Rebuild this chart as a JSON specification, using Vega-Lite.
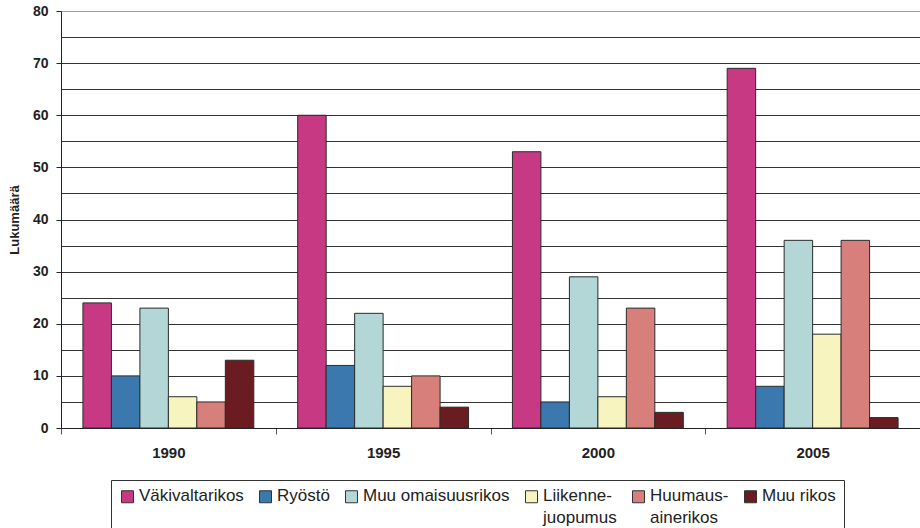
{
  "$schema": "https://vega.github.io/schema/vega-lite/v6.json",
  "width": 859,
  "height": 417,
  "autosize": {"type": "none"},
  "padding": {"left": 61, "top": 11, "right": 0, "bottom": 100},
  "background": "white",
  "config": {
    "font": "Liberation Sans",
    "view": {"stroke": null}
  },
  "data": {
    "values": [
      {"vuosi": "1990", "rikos": "Väkivaltarikos", "lkm": 24},
      {"vuosi": "1990", "rikos": "Ryöstö", "lkm": 10},
      {"vuosi": "1990", "rikos": "Muu omaisuusrikos", "lkm": 23},
      {"vuosi": "1990", "rikos": "Liikenne-juopumus", "lkm": 6},
      {"vuosi": "1990", "rikos": "Huumaus-ainerikos", "lkm": 5},
      {"vuosi": "1990", "rikos": "Muu rikos", "lkm": 13},
      {"vuosi": "1995", "rikos": "Väkivaltarikos", "lkm": 60},
      {"vuosi": "1995", "rikos": "Ryöstö", "lkm": 12},
      {"vuosi": "1995", "rikos": "Muu omaisuusrikos", "lkm": 22},
      {"vuosi": "1995", "rikos": "Liikenne-juopumus", "lkm": 8},
      {"vuosi": "1995", "rikos": "Huumaus-ainerikos", "lkm": 10},
      {"vuosi": "1995", "rikos": "Muu rikos", "lkm": 4},
      {"vuosi": "2000", "rikos": "Väkivaltarikos", "lkm": 53},
      {"vuosi": "2000", "rikos": "Ryöstö", "lkm": 5},
      {"vuosi": "2000", "rikos": "Muu omaisuusrikos", "lkm": 29},
      {"vuosi": "2000", "rikos": "Liikenne-juopumus", "lkm": 6},
      {"vuosi": "2000", "rikos": "Huumaus-ainerikos", "lkm": 23},
      {"vuosi": "2000", "rikos": "Muu rikos", "lkm": 3},
      {"vuosi": "2005", "rikos": "Väkivaltarikos", "lkm": 69},
      {"vuosi": "2005", "rikos": "Ryöstö", "lkm": 8},
      {"vuosi": "2005", "rikos": "Muu omaisuusrikos", "lkm": 36},
      {"vuosi": "2005", "rikos": "Liikenne-juopumus", "lkm": 18},
      {"vuosi": "2005", "rikos": "Huumaus-ainerikos", "lkm": 36},
      {"vuosi": "2005", "rikos": "Muu rikos", "lkm": 2}
    ]
  },
  "mark": {"type": "bar", "stroke": "#2b2b2b", "strokeWidth": 1},
  "encoding": {
    "x": {
      "field": "vuosi",
      "type": "nominal",
      "scale": {"paddingInner": 0, "paddingOuter": 0},
      "axis": {
        "title": null,
        "labelAngle": 0,
        "labelFontWeight": "bold",
        "labelFontSize": 15,
        "labelColor": "#222",
        "labelPadding": 11,
        "tickBand": "extent",
        "tickSize": 6,
        "tickColor": "#555",
        "domainColor": "#222",
        "grid": false
      }
    },
    "xOffset": {
      "field": "rikos",
      "type": "nominal",
      "sort": ["Väkivaltarikos", "Ryöstö", "Muu omaisuusrikos", "Liikenne-juopumus", "Huumaus-ainerikos", "Muu rikos"],
      "scale": {"paddingInner": 0, "paddingOuter": 0.77}
    },
    "y": {
      "field": "lkm",
      "type": "quantitative",
      "scale": {"domain": [0, 80], "nice": false},
      "axis": {
        "title": "Lukumäärä",
        "titleFontSize": 13,
        "titleFontWeight": "bold",
        "titleColor": "#222",
        "titlePadding": 11,
        "values": [0, 5, 10, 15, 20, 25, 30, 35, 40, 45, 50, 55, 60, 65, 70, 75, 80],
        "labelExpr": "datum.value % 10 == 0 ? datum.label : ''",
        "labelFontWeight": "bold",
        "labelFontSize": 14,
        "labelColor": "#222",
        "labelPadding": 8,
        "tickSize": 5,
        "tickColor": "#222",
        "tickOpacity": {"condition": {"test": "datum.value % 10 == 0", "value": 1}, "value": 0},
        "domainColor": "#222",
        "grid": true,
        "gridColor": {"condition": {"test": "datum.value == 80", "value": "#a0a0a0"}, "value": "#333"},
        "gridWidth": 1
      }
    },
    "color": {
      "field": "rikos",
      "type": "nominal",
      "sort": ["Väkivaltarikos", "Ryöstö", "Muu omaisuusrikos", "Liikenne-juopumus", "Huumaus-ainerikos", "Muu rikos"],
      "scale": {
        "domain": ["Väkivaltarikos", "Ryöstö", "Muu omaisuusrikos", "Liikenne-juopumus", "Huumaus-ainerikos", "Muu rikos"],
        "range": ["#C73A83", "#3A78AE", "#B3D7D6", "#F7F4BF", "#D7807B", "#6B1C20"]
      },
      "legend": {
        "title": null,
        "orient": "none",
        "legendX": 50,
        "legendY": 469,
        "direction": "horizontal",
        "columns": 6,
        "columnPadding": 13,
        "symbolType": "square",
        "symbolSize": 144,
        "symbolStrokeColor": "#333",
        "symbolStrokeWidth": 1,
        "symbolOffset": 0,
        "labelFontSize": 17,
        "labelColor": "#222",
        "labelLimit": 300,
        "labelOffset": 3,
        "labelBaseline": "top",
        "labelExpr": "datum.label == 'Liikenne-juopumus' ? ['Liikenne-', 'juopumus'] : datum.label == 'Huumaus-ainerikos' ? ['Huumaus-', 'ainerikos'] : [datum.label, '']",
        "strokeColor": "#333",
        "padding": 8,
        "encode": {
          "labels": {"update": {"dy": {"value": -9}, "lineHeight": {"value": 22}}}
        }
      }
    }
  }
}
